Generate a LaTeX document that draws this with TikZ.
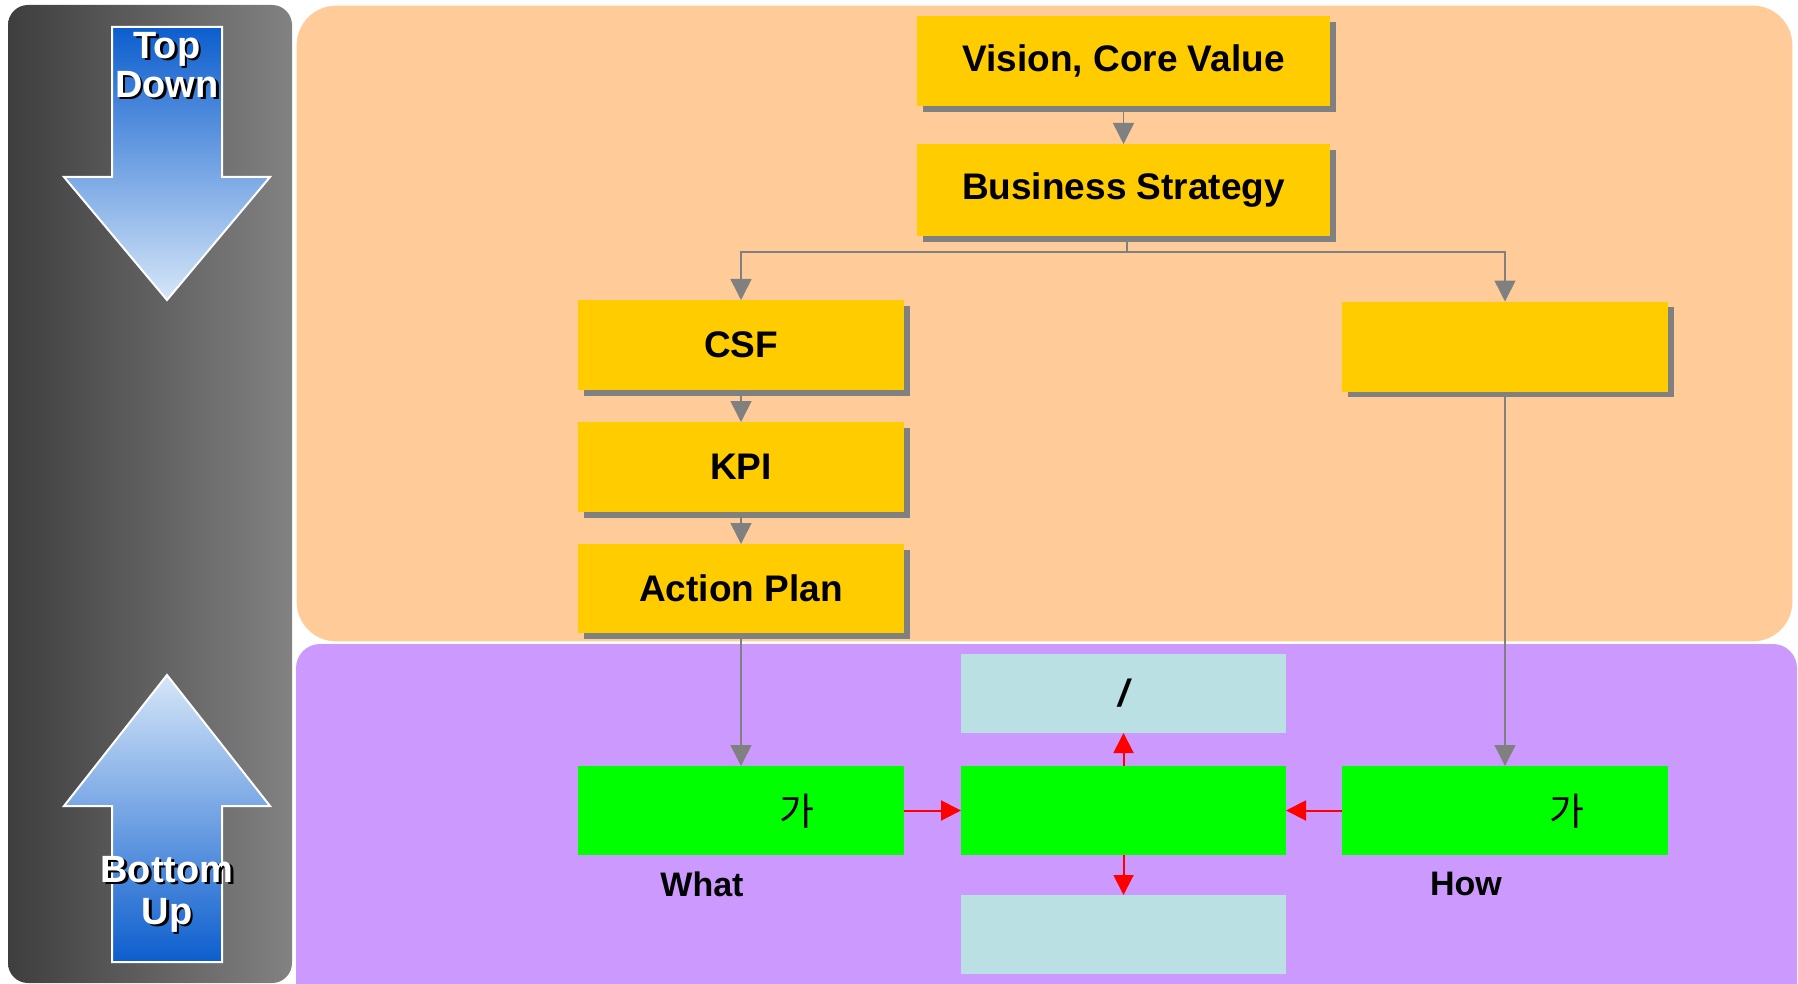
\documentclass[tikz,border=0pt]{standalone}
\usepackage{fontspec}
\setmainfont{Liberation Sans}
\newfontfamily\krfont{Noto Sans CJK KR}
\usetikzlibrary{arrows.meta,shadows}
\definecolor{panelorange}{HTML}{FFCC99}
\definecolor{panelpurple}{HTML}{CC99FF}
\definecolor{boxyellow}{HTML}{FFCC00}
\definecolor{boxgreen}{HTML}{00FF00}
\definecolor{boxlblue}{HTML}{BAE0E3}
\definecolor{shadowgray}{HTML}{808080}
\definecolor{darkside}{HTML}{3E3E3E}
\definecolor{lightside}{HTML}{828282}
\definecolor{arrowdark}{RGB}{12,94,206}
\definecolor{arrowlight}{RGB}{214,230,248}
\begin{document}
\begin{tikzpicture}[x=0.5pt,y=-0.5pt,
  ybox/.style={fill=boxyellow, inner sep=0pt, outer sep=0pt,
    minimum width=163pt, minimum height=45pt,
    font=\fontsize{18.5}{22}\selectfont\bfseries,
    general shadow={fill=shadowgray, shadow xshift=2.8pt, shadow yshift=-2.8pt}},
  gbox/.style={fill=boxgreen, inner sep=0pt, outer sep=0pt,
    minimum width=163pt, minimum height=44.5pt},
  lbbox/.style={fill=boxlblue, inner sep=0pt, outer sep=0pt,
    minimum width=162.5pt, minimum height=39.5pt,
    font=\fontsize{19}{22}\selectfont\bfseries\itshape},
  gline/.style={draw=shadowgray, line width=0.8pt},
  garrow/.style={gline, -{Triangle[length=10.5pt,width=10.5pt]}},
  rarrow/.style={draw=red, line width=1pt, -{Triangle[length=10pt,width=10pt]}},
  sidetext/.style={align=center, font=\fontsize{19}{19.5}\selectfont\bfseries, inner sep=0pt},
  sidetextb/.style={align=center, font=\fontsize{19}{21}\selectfont\bfseries, inner sep=0pt},
  bottomlabel/.style={font=\fontsize{17}{20}\selectfont\bfseries, inner sep=0pt},
  krlabel/.style={font=\krfont\fontsize{19}{22}\selectfont, inner sep=0pt}
]
\useasboundingbox (0,0) rectangle (1798,984);

% left side panel
\shade[left color=darkside, right color=lightside, rounded corners=10pt] (8,5) rectangle (292,983);

% right panels
\fill[panelpurple, rounded corners=12pt] (296,644) rectangle (1797,1010);
\filldraw[fill=panelorange, draw=white, line width=0.6pt, rounded corners=20pt] (296,5) rectangle (1793,642);

% big arrows
\shade[top color=arrowdark, bottom color=arrowlight, draw=white, line width=1pt]
  (112,27) -- (222,27) -- (222,177) -- (270,177) -- (167,300) -- (64,177) -- (112,177) -- cycle;
\shade[top color=arrowlight, bottom color=arrowdark, draw=white, line width=1pt]
  (167,675) -- (270,806) -- (222,806) -- (222,962) -- (112,962) -- (112,806) -- (64,806) -- cycle;

\node[sidetext, text=black] (tdshadow) at (169.5,67.5) {Top\\Down};
\node[sidetext, text=white] (tdtext) at (167,65) {Top\\Down};
\node[sidetextb, text=black] (bushadow) at (169.5,896.5) {Bottom\\Up};
\node[sidetextb, text=white] (butext) at (167,894) {Bottom\\Up};

% yellow boxes
\node[ybox, minimum width=206.5pt] (vision) at (1123.5,61) {Vision, Core Value};
\node[ybox, minimum width=206.5pt, minimum height=46pt] (bs) at (1123.5,190) {Business Strategy};
\node[ybox] (csf) at (741,345) {CSF};
\node[ybox] (kpi) at (741,467) {KPI};
\node[ybox, minimum height=44.5pt] (ap) at (741,588.5) {Action Plan};
\node[ybox] (rbox) at (1505,346.5) {};

% bottom boxes
\node[gbox] (g1) at (741,810.5) {};
\node[gbox, minimum width=162.5pt] (g2) at (1123.5,810.5) {};
\node[gbox] (g3) at (1505,810.5) {};
\node[lbbox] (lb1) at (1123.5,693.5) {/};
\node[lbbox] (lb2) at (1123.5,934.5) {};

\node[krlabel] (g1text) at (797,811) {가};
\node[krlabel] (g3text) at (1567,811) {가};
\node[bottomlabel] (what) at (702,884) {What};
\node[bottomlabel] (how) at (1466,884) {How};

% grey connectors
\draw[garrow] (vision.south) -- (bs.north);
\coordinate (bsj) at (1127,252);
\draw[gline] (bs.south -| bsj) -- (bsj);
\draw[garrow] (bsj) -| (csf.north);
\draw[garrow] (bsj) -| (rbox.north);
\draw[garrow] (csf.south) -- (kpi.north);
\draw[garrow] (kpi.south) -- (ap.north);
\draw[garrow] (ap.south) -- (g1.north);
\draw[garrow] (rbox.south) -- (g3.north);

% red connectors
\draw[rarrow] (g1.east) -- (g2.west);
\draw[rarrow] (g3.west) -- (g2.east);
\draw[rarrow] (g2.north) -- (lb1.south);
\draw[rarrow] (g2.south) -- (lb2.north);
\end{tikzpicture}
\end{document}
